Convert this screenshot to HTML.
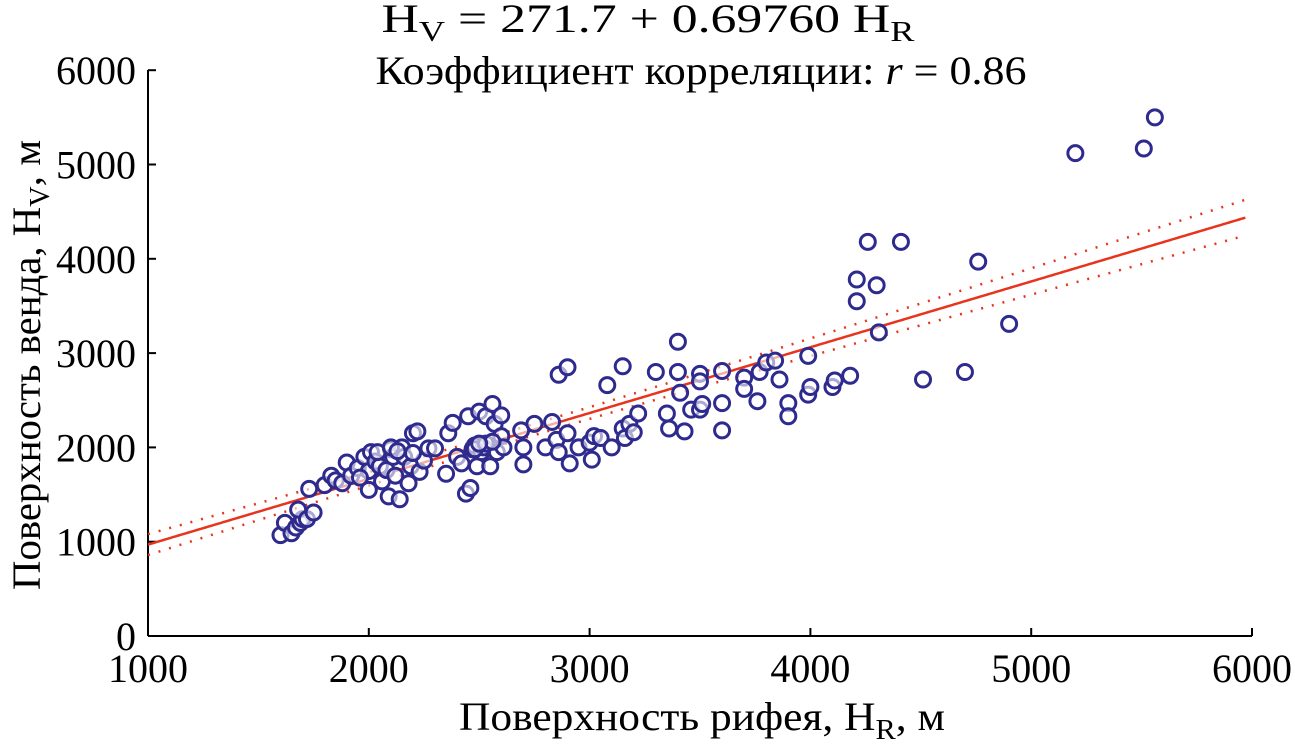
<!DOCTYPE html>
<html><head><meta charset="utf-8"><style>
html,body{margin:0;padding:0;background:#fff;}
svg{display:block;font-family:"Liberation Serif",serif;}
</style></head><body>
<svg id="chart" width="1295" height="748">
<g id="title">
<text x="648" y="32" text-anchor="middle" font-size="40" textLength="533" lengthAdjust="spacingAndGlyphs">H<tspan font-size="28" dy="9">V</tspan><tspan dy="-9"> = 271.7 + 0.69760 H</tspan><tspan font-size="28" dy="9">R</tspan></text>
<text x="701" y="84" text-anchor="middle" font-size="40" textLength="651" lengthAdjust="spacingAndGlyphs">Коэффициент корреляции: <tspan font-style="italic">r</tspan> = 0.86</text>
</g>
<g id="axes"></g>
<g id="band"></g>
<g id="pts"></g>
<text x="702" y="730" text-anchor="middle" font-size="40" textLength="486" lengthAdjust="spacingAndGlyphs">Поверхность рифея, H<tspan font-size="28" dy="9">R</tspan><tspan dy="-9">, м</tspan></text>
<text transform="translate(40,365) rotate(-90)" text-anchor="middle" font-size="40" textLength="450" lengthAdjust="spacingAndGlyphs">Поверхность венда, H<tspan font-size="28" dy="9">V</tspan><tspan dy="-9">, м</tspan></text>
</svg>
<script>
const xTicks=[1000,2000,3000,4000,5000,6000];
const yTicks=[0,1000,2000,3000,4000,5000,6000];
const intercept=271.7, slope=0.6976;
const hr=[1600,1620,1650,1670,1690,1700,1680,1720,1750,1730,1800,1830,1850,1880,1900,1920,1950,1980,2000,2000,2010,2030,2050,2060,2080,2090,2100,2110,2120,2140,2150,2160,2180,2190,2200,2220,2230,2250,2270,2300,2350,2360,2380,2400,2420,2440,2450,2460,2470,2480,2490,2500,2510,2520,2530,2550,2560,2570,2580,2600,2600,2610,2690,2700,2700,2750,2800,2830,2850,2860,2860,2900,2900,2910,2950,3000,3010,3020,3050,3080,3100,3150,3150,3160,3180,3200,3220,3300,3350,3360,3400,3400,3410,3430,3460,3500,3500,3500,3510,3600,3600,3600,3700,3700,3760,3770,3800,3840,3860,3900,3900,3990,3990,4000,4100,4110,4180,4210,4210,4260,4300,4310,4410,4510,4700,4760,4900,5200,5510,5560,1960,2040,2100,2130,2200,2480,2530,2560,2500];
const hv=[1070,1200,1090,1150,1200,1240,1340,1240,1310,1560,1600,1700,1650,1620,1840,1700,1780,1900,1750,1550,1950,1850,1800,1640,1760,1480,1980,1900,1700,1450,2000,1900,1620,1800,2150,2170,1740,1860,1990,1990,1720,2150,2260,1900,1830,1510,2330,1570,1980,2020,1800,2380,1950,2000,2330,1800,2460,2250,1950,2340,2120,2000,2180,1820,2000,2250,2000,2270,2080,1950,2770,2850,2150,1830,2000,2050,1870,2120,2100,2660,2000,2860,2200,2100,2250,2160,2360,2800,2360,2200,3120,2800,2580,2170,2400,2780,2700,2400,2460,2810,2470,2180,2740,2620,2490,2800,2900,2920,2720,2470,2330,2970,2560,2640,2640,2710,2760,3780,3550,4180,3720,3220,4180,2720,2800,3970,3310,5120,5170,5500,1680,1950,2000,1960,1940,1980,2040,2060,2040];
const X=v=>148+(v-1000)*0.2208, Y=v=>636-v*0.0943;
const NS='http://www.w3.org/2000/svg';
function mk(t,a,p){const e=document.createElementNS(NS,t);for(const k in a)e.setAttribute(k,a[k]);p.appendChild(e);return e;}
const ax=document.getElementById('axes');
let l=mk('line',{x1:148,y1:636,x2:1252,y2:636,stroke:'#000','stroke-width':2},ax);


l=mk('line',{x1:148,y1:636,x2:148,y2:70,stroke:'#000','stroke-width':2},ax);


xTicks.forEach(v=>{mk('line',{x1:X(v),y1:636,x2:X(v),y2:628,stroke:'#000','stroke-width':2},ax);
const t=mk('text',{x:X(v),y:682,'text-anchor':'middle','font-size':40,textLength:80,lengthAdjust:'spacingAndGlyphs'},ax);t.textContent=v;

});
yTicks.forEach(v=>{mk('line',{x1:148,y1:Y(v),x2:156,y2:Y(v),stroke:'#000','stroke-width':2},ax);
const t=mk('text',{x:136,y:Y(v)+14,'text-anchor':'end','font-size':40},ax);t.textContent=v;

});
const band=document.getElementById('band');
const fit=x=>intercept+slope*x, hw=x=>Math.sqrt(3600+Math.pow(0.055*(x-2700),2));
let d='',du='',dl='';
for(let x=1000;x<=5970;x+=10){const c=(x===1000?'M':'L');d+=c+X(x)+','+Y(fit(x));du+=c+X(x)+','+Y(fit(x)+hw(x));dl+=c+X(x)+','+Y(fit(x)-hw(x));}
l=mk('path',{d:d,fill:'none',stroke:'#e8341c','stroke-width':2.5},band);


l=mk('path',{d:du,fill:'none',stroke:'#e8341c','stroke-width':2.5,'stroke-dasharray':'2 9'},band);


l=mk('path',{d:dl,fill:'none',stroke:'#e8341c','stroke-width':2.5,'stroke-dasharray':'2 9'},band);


const pts=document.getElementById('pts');
hr.forEach((x,i)=>{const c=mk('circle',{cx:X(x),cy:Y(hv[i]),r:7.5,fill:'#fff','fill-opacity':0.6,stroke:'#2e2a8e','stroke-width':3},pts);

});
</script>
</body></html>
